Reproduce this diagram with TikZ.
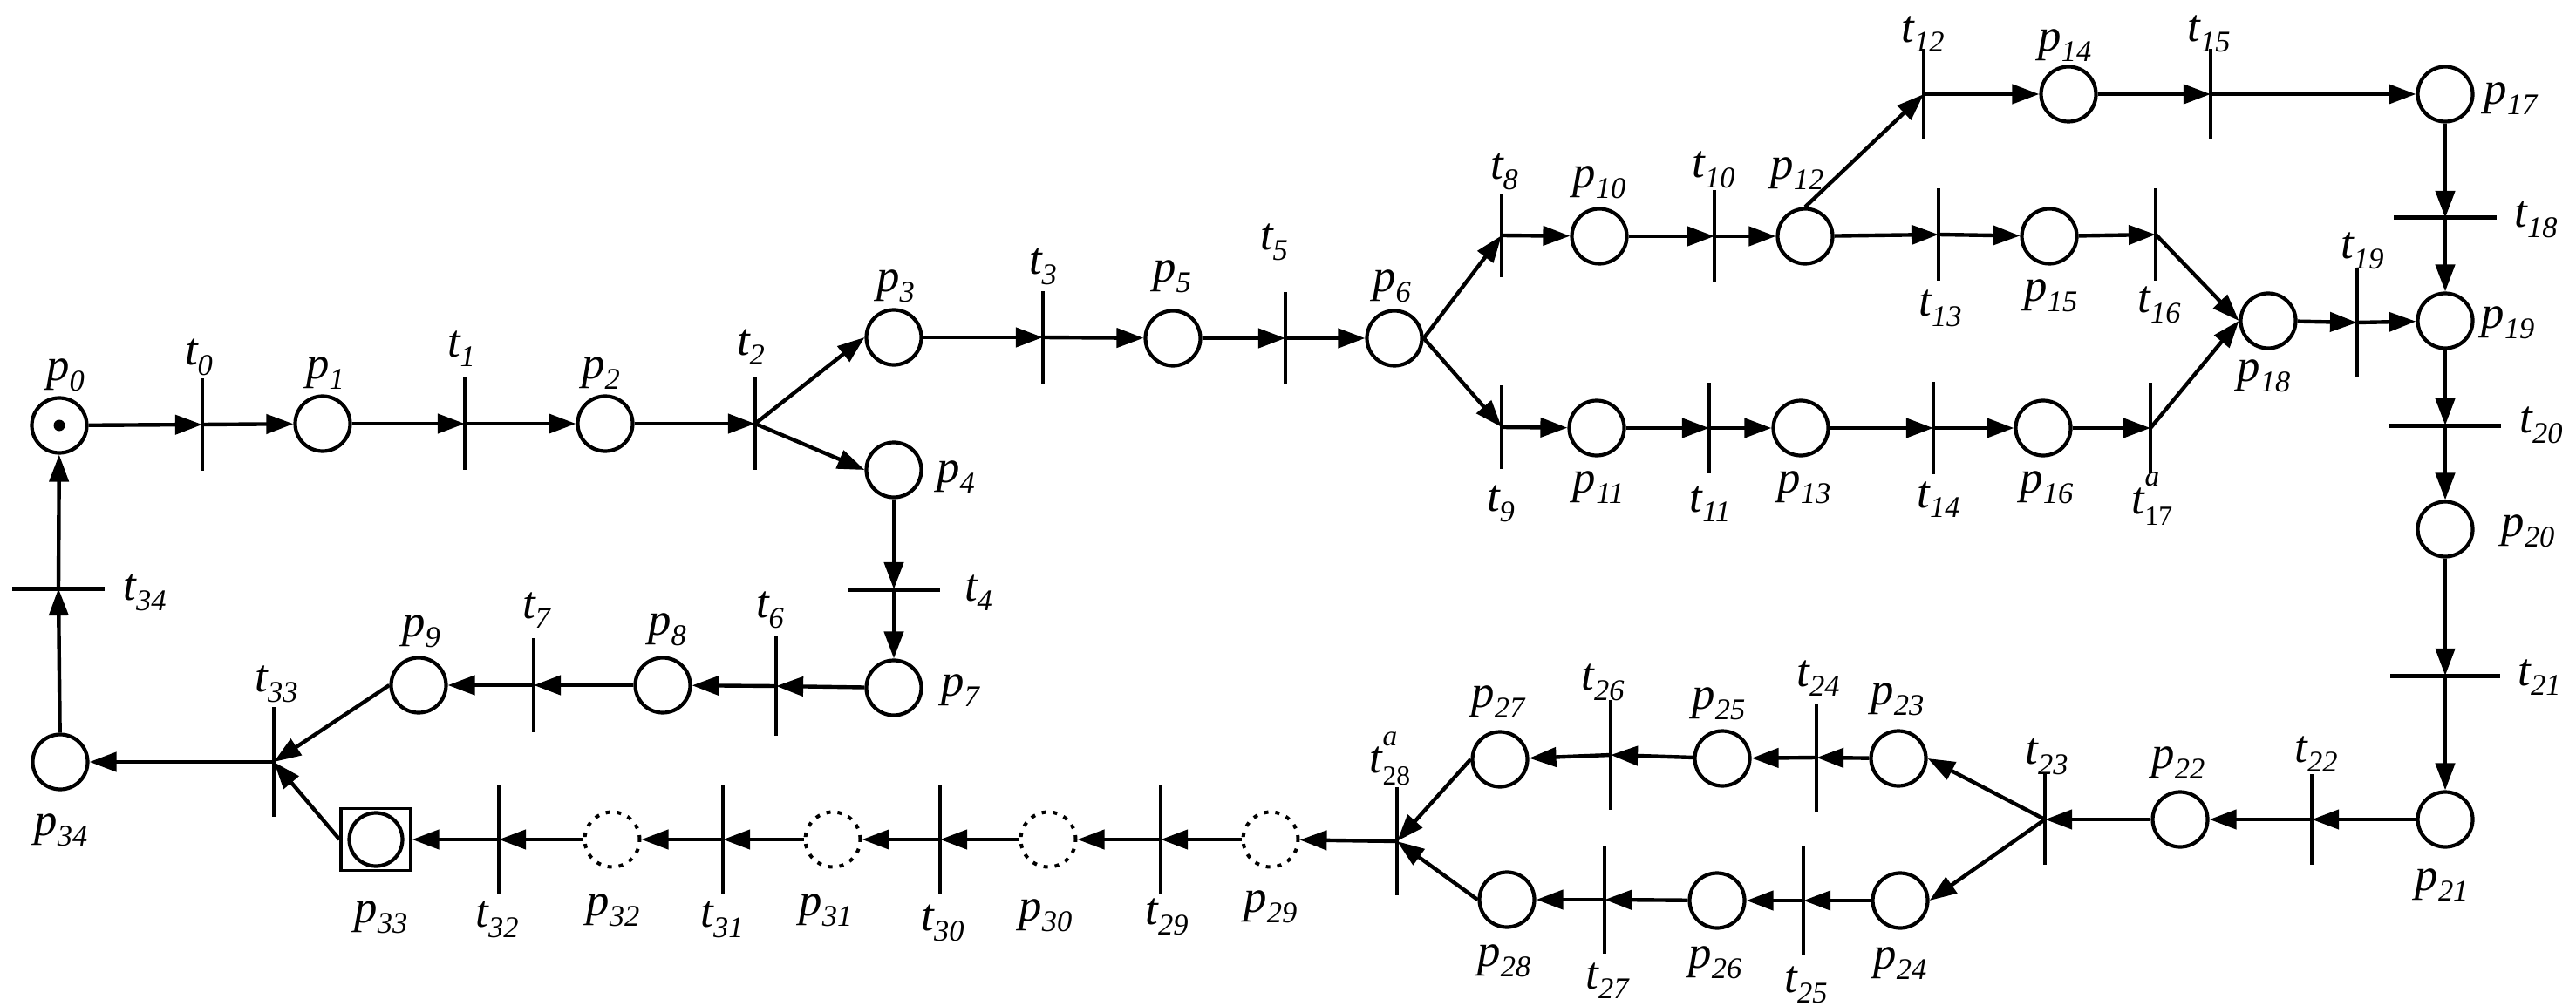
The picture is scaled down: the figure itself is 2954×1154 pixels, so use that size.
\documentclass[tikz,border=0pt]{standalone}
\usepackage{fontspec}
\setmainfont{Liberation Serif}
\usetikzlibrary{arrows.meta}
\newcommand\sbs[1]{\raisebox{-0.22em}{\fontsize{9.8}{12}\selectfont #1}}
\newcommand\lb[2]{#1\sbs{#2}}
\newcommand\lbA[2]{#1\rlap{\raisebox{0.6em}{\fontsize{9.5}{11}\selectfont a}}\raisebox{-0.25em}{\fontsize{9}{11}\selectfont\upshape #2}}
\begin{document}
\begin{tikzpicture}[x=0.1mm,y=-0.1mm,
 place/.style={draw, circle, line width=0.42mm, minimum size=6.3mm, inner sep=0pt},
 dplace/.style={draw, circle, line width=0.4mm, minimum size=6.3mm, inner sep=0pt, dash pattern=on 0.5mm off 0.8mm},
 tv/.style={draw, rectangle, line width=0.36mm, minimum width=0.02mm, minimum height=#1, inner sep=0pt, outer sep=0pt},
 th/.style={draw, rectangle, line width=0.48mm, minimum height=0.02mm, minimum width=#1, inner sep=0pt, outer sep=0pt},
 arc/.style={line width=0.44mm, -{Triangle[length=3.1mm,width=2.2mm]}},
 lab/.style={font=\fontsize{15}{17}\selectfont\itshape, inner sep=0pt}
]
\useasboundingbox (0,0) rectangle (2954,1154);
% places
\node[place] (p0) at (68,488) {};
\node[circle, fill, inner sep=0pt, minimum size=1.3mm] (p0tok) at (p0) {};
\node[place] (p1) at (370,486) {};
\node[place] (p2) at (694,486) {};
\node[place] (p3) at (1025,387) {};
\node[place] (p4) at (1025,539) {};
\node[place] (p5) at (1345,388) {};
\node[place] (p6) at (1599,388) {};
\node[place] (p7) at (1025,789) {};
\node[place] (p8) at (760,786) {};
\node[place] (p9) at (480,786) {};
\node[place] (p10) at (1834,271) {};
\node[place] (p11) at (1831,491) {};
\node[place] (p12) at (2070,271) {};
\node[place] (p13) at (2065,491) {};
\node[place] (p14) at (2372,108) {};
\node[place] (p15) at (2350,271) {};
\node[place] (p16) at (2343,491) {};
\node[place] (p17) at (2804,108) {};
\node[place] (p18) at (2601,368) {};
\node[place] (p19) at (2804,368) {};
\node[place] (p20) at (2804,607) {};
\node[place] (p21) at (2804,940) {};
\node[place] (p22) at (2500,940) {};
\node[place] (p23) at (2177,870) {};
\node[place] (p24) at (2179,1033) {};
\node[place] (p25) at (1975,870) {};
\node[place] (p26) at (1969,1033) {};
\node[place] (p27) at (1720,871) {};
\node[place] (p28) at (1728,1032) {};
\node[dplace] (p29) at (1457,963) {};
\node[dplace] (p30) at (1202,963) {};
\node[dplace] (p31) at (955,963) {};
\node[dplace] (p32) at (702,963) {};
\node[draw, rectangle, line width=0.32mm, minimum width=8.0mm, minimum height=7.1mm, inner sep=0pt] (p33) at (431,963) {};
\node[place, minimum size=6.1mm] (p33in) at (p33) {};
\node[place] (p34) at (69,874) {};
% transitions
\node[tv=10.2mm] (t0) at (232,487) {};
\node[tv=10.2mm] (t1) at (533,486) {};
\node[tv=10.2mm] (t2) at (866,486) {};
\node[tv=10.2mm] (t3) at (1196,387) {};
\node[th=10.2mm] (t4) at (1025,676) {};
\node[tv=10.2mm] (t5) at (1474,388) {};
\node[tv=11mm] (t6) at (890,787) {};
\node[tv=10.4mm] (t7) at (612,786) {};
\node[tv=9.2mm] (t8) at (1722,270) {};
\node[tv=9.2mm] (t9) at (1722,490) {};
\node[tv=10.2mm] (t10) at (1966,271) {};
\node[tv=10mm] (t11) at (1960,491) {};
\node[tv=10mm] (t12) at (2206,108) {};
\node[tv=10.3mm] (t13) at (2223,269) {};
\node[tv=10.2mm] (t14) at (2217,491) {};
\node[tv=10mm] (t15) at (2535,108) {};
\node[tv=10.3mm] (t16) at (2472,269) {};
\node[tv=10.1mm] (t17) at (2466,491) {};
\node[th=11.4mm] (t18) at (2804,250) {};
\node[tv=12.2mm] (t19) at (2703,370) {};
\node[th=12.3mm] (t20) at (2804,488) {};
\node[th=12.1mm] (t21) at (2804,775) {};
\node[tv=10.1mm] (t22) at (2651,940) {};
\node[tv=10.1mm] (t23) at (2345,940) {};
\node[tv=12mm] (t24) at (2083,869) {};
\node[tv=12.3mm] (t25) at (2068,1033) {};
\node[tv=12.3mm] (t26) at (1847,866) {};
\node[tv=12.1mm] (t27) at (1840,1032) {};
\node[tv=12.1mm] (t28) at (1602,965) {};
\node[tv=12.2mm] (t29) at (1331,963) {};
\node[tv=12.2mm] (t30) at (1078,963) {};
\node[tv=12.2mm] (t31) at (829,963) {};
\node[tv=12.2mm] (t32) at (572,963) {};
\node[tv=12.2mm] (t33) at (314,874) {};
\node[th=10.2mm] (t34) at (67,675) {};
% arcs
\draw[arc] (p0) -- (t0);
\draw[arc] (t0) -- (p1);
\draw[arc] (p1) -- (t1);
\draw[arc] (t1) -- (p2);
\draw[arc] (p2) -- (t2);
\draw[arc] (t2) -- (p3.west);
\draw[arc] (t2) -- (p4.west);
\draw[arc] (p3) -- (t3);
\draw[arc] (t3) -- (p5);
\draw[arc] (p5) -- (t5);
\draw[arc] (t5) -- (p6);
\draw[arc] (p6.east) -- (t8);
\draw[arc] (p6.east) -- (t9);
\draw[arc] (t8) -- (p10);
\draw[arc] (p10) -- (t10);
\draw[arc] (t10) -- (p12);
\draw[arc] (p12.north) -- (t12);
\draw[arc] (t12) -- (p14);
\draw[arc] (p14) -- (t15);
\draw[arc] (t15) -- (p17);
\draw[arc] (p12) -- (t13);
\draw[arc] (t13) -- (p15);
\draw[arc] (p15) -- (t16);
\draw[arc] (t16) -- (p18.west);
\draw[arc] (t9) -- (p11);
\draw[arc] (p11) -- (t11);
\draw[arc] (t11) -- (p13);
\draw[arc] (p13) -- (t14);
\draw[arc] (t14) -- (p16);
\draw[arc] (p16) -- (t17);
\draw[arc] (t17) -- (p18.west);
\draw[arc] (p18) -- (t19);
\draw[arc] (t19) -- (p19);
\draw[arc] (p17) -- (t18);
\draw[arc] (t18) -- (p19);
\draw[arc] (p19) -- (t20);
\draw[arc] (t20) -- (p20);
\draw[arc] (p20) -- (t21);
\draw[arc] (t21) -- (p21);
\draw[arc] (p21) -- (t22);
\draw[arc] (t22) -- (p22);
\draw[arc] (p22) -- (t23);
\draw[arc] (t23) -- (p23.east);
\draw[arc] (t23) -- (p24.east);
\draw[arc] (p23) -- (t24);
\draw[arc] (t24) -- (p25);
\draw[arc] (p25) -- (t26);
\draw[arc] (t26) -- (p27);
\draw[arc] (p27.west) -- (t28);
\draw[arc] (p24) -- (t25);
\draw[arc] (t25) -- (p26);
\draw[arc] (p26) -- (t27);
\draw[arc] (t27) -- (p28);
\draw[arc] (p28.west) -- (t28);
\draw[arc] (t28) -- (p29);
\draw[arc] (p29) -- (t29);
\draw[arc] (t29) -- (p30);
\draw[arc] (p30) -- (t30);
\draw[arc] (t30) -- (p31);
\draw[arc] (p31) -- (t31);
\draw[arc] (t31) -- (p32);
\draw[arc] (p32) -- (t32);
\draw[arc] (t32) -- (p33);
\draw[arc] (p33.west) -- (t33);
\draw[arc] (p4) -- (t4);
\draw[arc] (t4) -- (p7);
\draw[arc] (p7) -- (t6);
\draw[arc] (t6) -- (p8);
\draw[arc] (p8) -- (t7);
\draw[arc] (t7) -- (p9);
\draw[arc] (p9.west) -- (t33);
\draw[arc] (t33) -- (p34);
\draw[arc] (p34) -- (t34);
\draw[arc] (t34) -- (p0);
% labels
\node[lab] (Lp0) at (75,430) {\lb{p}{0}};
\node[lab] (Lt0) at (228,410) {\lb{t}{0}};
\node[lab] (Lp1) at (373,428) {\lb{p}{1}};
\node[lab] (Lt1) at (529,400) {\lb{t}{1}};
\node[lab] (Lp2) at (689,428) {\lb{p}{2}};
\node[lab] (Lt2) at (861,398) {\lb{t}{2}};
\node[lab] (Lp3) at (1027,328) {\lb{p}{3}};
\node[lab] (Lt3) at (1196,306) {\lb{t}{3}};
\node[lab] (Lp5) at (1344,317) {\lb{p}{5}};
\node[lab] (Lt5) at (1461,278) {\lb{t}{5}};
\node[lab] (Lp6) at (1596,328) {\lb{p}{6}};
\node[lab] (Lp4) at (1096,547) {\lb{p}{4}};
\node[lab] (Lt4) at (1122,680) {\lb{t}{4}};
\node[lab] (Lp7) at (1101,792) {\lb{p}{7}};
\node[lab] (Lt6) at (883,700) {\lb{t}{6}};
\node[lab] (Lp8) at (765,722) {\lb{p}{8}};
\node[lab] (Lt7) at (615,700) {\lb{t}{7}};
\node[lab] (Lp9) at (483,724) {\lb{p}{9}};
\node[lab] (Lt33) at (317,785) {\lb{t}{33}};
\node[lab] (Lp34) at (70,952) {\lb{p}{34}};
\node[lab] (Lt34) at (166,680) {\lb{t}{34}};
\node[lab] (Lp33) at (437,1052) {\lb{p}{33}};
\node[lab] (Lt32) at (570,1055) {\lb{t}{32}};
\node[lab] (Lp32) at (703,1044) {\lb{p}{32}};
\node[lab] (Lt31) at (828,1055) {\lb{t}{31}};
\node[lab] (Lp31) at (947,1044) {\lb{p}{31}};
\node[lab] (Lt30) at (1081,1059) {\lb{t}{30}};
\node[lab] (Lp30) at (1199,1050) {\lb{p}{30}};
\node[lab] (Lt29) at (1338,1052) {\lb{t}{29}};
\node[lab] (Lp29) at (1457,1040) {\lb{p}{29}};
\node[lab] (Lt28) at (1594,870) {\lbA{t}{28}};
\node[lab] (Lp27) at (1718,805) {\lb{p}{27}};
\node[lab] (Lt26) at (1838,783) {\lb{t}{26}};
\node[lab] (Lp28) at (1725,1102) {\lb{p}{28}};
\node[lab] (Lt27) at (1843,1125) {\lb{t}{27}};
\node[lab] (Lp25) at (1971,807) {\lb{p}{25}};
\node[lab] (Lt24) at (2085,778) {\lb{t}{24}};
\node[lab] (Lp23) at (2176,802) {\lb{p}{23}};
\node[lab] (Lt23) at (2347,868) {\lb{t}{23}};
\node[lab] (Lp22) at (2498,875) {\lb{p}{22}};
\node[lab] (Lt22) at (2656,865) {\lb{t}{22}};
\node[lab] (Lt21) at (2912,777) {\lb{t}{21}};
\node[lab] (Lp21) at (2800,1015) {\lb{p}{21}};
\node[lab] (Lp24) at (2179,1105) {\lb{p}{24}};
\node[lab] (Lt25) at (2071,1130) {\lb{t}{25}};
\node[lab] (Lp26) at (1967,1104) {\lb{p}{26}};
\node[lab] (Lt8) at (1725,197) {\lb{t}{8}};
\node[lab] (Lp10) at (1834,209) {\lb{p}{10}};
\node[lab] (Lt10) at (1965,195) {\lb{t}{10}};
\node[lab] (Lp12) at (2061,199) {\lb{p}{12}};
\node[lab] (Lt12) at (2205,39) {\lb{t}{12}};
\node[lab] (Lp14) at (2368,52) {\lb{p}{14}};
\node[lab] (Lt15) at (2533,39) {\lb{t}{15}};
\node[lab] (Lp17) at (2879,113) {\lb{p}{17}};
\node[lab] (Lt18) at (2908,252) {\lb{t}{18}};
\node[lab] (Lt13) at (2225,354) {\lb{t}{13}};
\node[lab] (Lp15) at (2352,339) {\lb{p}{15}};
\node[lab] (Lt16) at (2476,350) {\lb{t}{16}};
\node[lab] (Lp18) at (2596,431) {\lb{p}{18}};
\node[lab] (Lt19) at (2709,288) {\lb{t}{19}};
\node[lab] (Lp19) at (2876,370) {\lb{p}{19}};
\node[lab] (Lt20) at (2914,488) {\lb{t}{20}};
\node[lab] (Lp20) at (2899,609) {\lb{p}{20}};
\node[lab] (Lt9) at (1721,578) {\lb{t}{9}};
\node[lab] (Lp11) at (1833,559) {\lb{p}{11}};
\node[lab] (Lt11) at (1961,578) {\lb{t}{11}};
\node[lab] (Lp13) at (2069,559) {\lb{p}{13}};
\node[lab] (Lt14) at (2223,573) {\lb{t}{14}};
\node[lab] (Lp16) at (2347,559) {\lb{p}{16}};
\node[lab] (Lt17) at (2468,572) {\lbA{t}{17}};
\end{tikzpicture}
\end{document}
